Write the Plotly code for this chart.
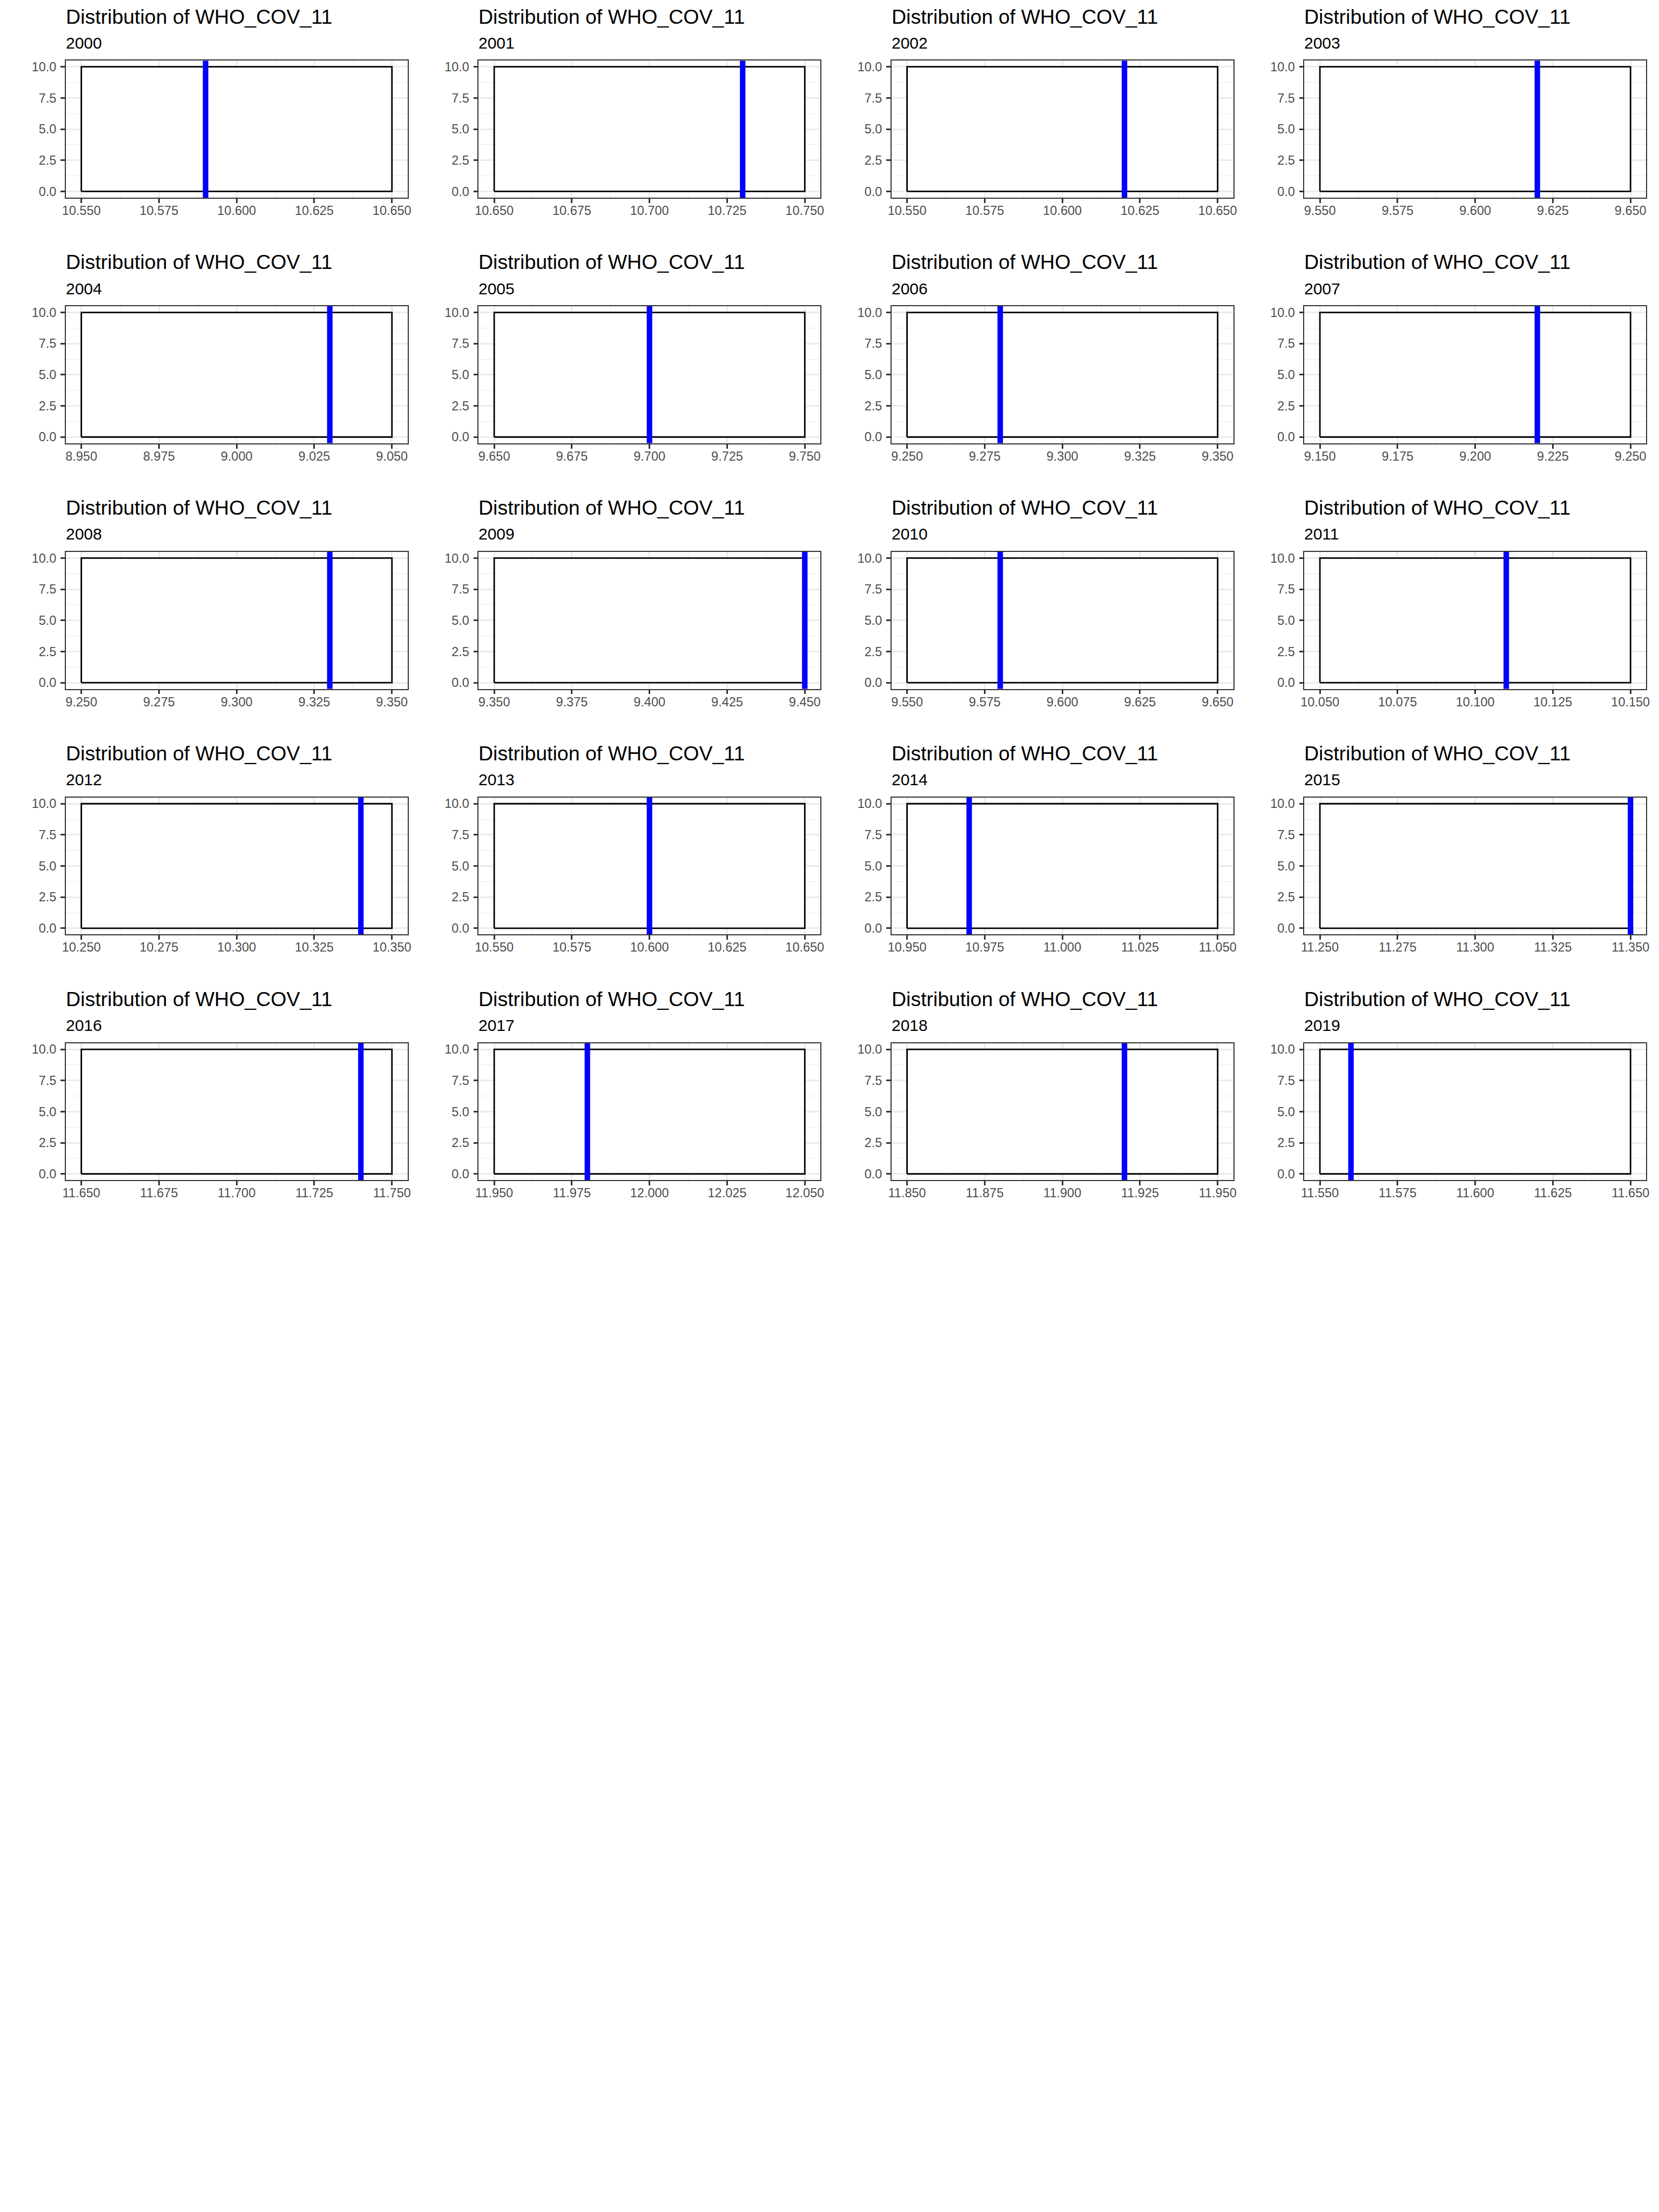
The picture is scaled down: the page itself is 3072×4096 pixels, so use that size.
import plotly.graph_objects as go

# ---------------- data ----------------
years = [2000, 2001, 2002, 2003, 2004, 2005, 2006, 2007, 2008, 2009,
         2010, 2011, 2012, 2013, 2014, 2015, 2016, 2017, 2018, 2019]
mean_values = [10.59, 10.73, 10.62, 9.62, 9.03, 9.70, 9.28, 9.22, 9.33, 9.45,
               9.58, 10.11, 10.34, 10.60, 10.97, 11.35, 11.74, 11.98, 11.92, 11.56]
bin_starts = [10.55, 10.65, 10.55, 9.55, 8.95, 9.65, 9.25, 9.15, 9.25, 9.35,
              9.55, 10.05, 10.25, 10.55, 10.95, 11.25, 11.65, 11.95, 11.85, 11.55]
bin_counts = [10, 10, 10, 10, 10, 10, 10, 10, 10, 10,
              10, 10, 10, 10, 10, 10, 10, 10, 10, 10]
bin_width = 0.1
y_tick_vals = [0, 2.5, 5, 7.5, 10]
y_tick_text = ["0.0", "2.5", "5.0", "7.5", "10.0"]
title_text = "Distribution of WHO_COV_11"

# ---------------- layout geometry (reference px, 4500x6000) ----------------
REF_W, REF_H = 4500.0, 6000.0
W, H = 3072, 4096
S = H / REF_H
NCOL = 4
COL_STEP = 1125.0
ROW_STEP = 666.75
P_LEFT, P_RIGHT = 169.0, 1100.0
P_TOP, P_BOTTOM = 163.0, 535.0
TITLE_BASE, SUB_BASE = 62.5, 129.5

FONT = "Liberation Sans, Arial, Helvetica, sans-serif"
TITLE_SIZE = 37.5
SUB_SIZE = 30
TICK_SIZE = 23.5

fig = go.Figure()
annotations = []

for i, yr in enumerate(years):
    r, c = divmod(i, NCOL)
    n = i + 1
    xa = "x" if n == 1 else f"x{n}"
    ya = "y" if n == 1 else f"y{n}"
    lo = bin_starts[i]
    hi = lo + bin_width
    cnt = bin_counts[i]

    # histogram bar
    fig.add_trace(go.Scatter(
        x=[lo, lo, hi, hi, lo], y=[0, cnt, cnt, 0, 0],
        mode="lines", fill="toself", fillcolor="white",
        line=dict(color="black", width=2.8), xaxis=xa, yaxis=ya,
        showlegend=False, hoverinfo="skip"))
    # mean line
    fig.add_trace(go.Scatter(
        x=[mean_values[i], mean_values[i]], y=[-0.5, 10.5],
        mode="lines", line=dict(color="#0000FF", width=10.2),
        xaxis=xa, yaxis=ya, showlegend=False, hoverinfo="skip"))

    left = P_LEFT + c * COL_STEP
    right = P_RIGHT + c * COL_STEP
    top = P_TOP + r * ROW_STEP
    bottom = P_BOTTOM + r * ROW_STEP
    xdom = [left / REF_W, right / REF_W]
    ydom = [1 - bottom / REF_H, 1 - top / REF_H]

    common = dict(
        showline=True, mirror=True, linecolor="#333333", linewidth=1.5,
        ticks="outside", ticklen=8, tickwidth=2.7, tickcolor="#333333",
        showgrid=True, gridcolor="#EBEBEB", gridwidth=2.7,
        zeroline=False, fixedrange=True,
        tickfont=dict(family=FONT, size=TICK_SIZE, color="#4D4D4D"),
    )
    xkey = "xaxis" if n == 1 else f"xaxis{n}"
    ykey = "yaxis" if n == 1 else f"yaxis{n}"
    fig.update_layout(**{
        xkey: dict(domain=xdom, anchor=ya, range=[lo - 0.005, hi + 0.005],
                   tickmode="linear", tick0=lo, dtick=0.025, tickformat=".3f",
                   minor=dict(tick0=lo + 0.0125, dtick=0.025, showgrid=True,
                              gridcolor="#EBEBEB", gridwidth=1.4, ticks=""),
                   ticklabelstandoff=-6,
                   **common),
        ykey: dict(domain=ydom, anchor=xa, range=[-0.5, 10.5],
                   tickmode="array", tickvals=y_tick_vals, ticktext=y_tick_text,
                   minor=dict(tickvals=[1.25, 3.75, 6.25, 8.75], showgrid=True,
                              gridcolor="#EBEBEB", gridwidth=1.4, ticks=""),
                   ticklabelstandoff=3,
                   **common),
    })

    tb = (TITLE_BASE + r * ROW_STEP) * S + 0.212 * TITLE_SIZE
    sb = (SUB_BASE + r * ROW_STEP) * S + 0.212 * SUB_SIZE
    annotations.append(dict(
        text=title_text, xref="paper", yref="paper", x=left / REF_W,
        y=1 - tb / H, xanchor="left", yanchor="bottom", showarrow=False,
        borderpad=0, borderwidth=0,
        font=dict(family=FONT, size=TITLE_SIZE, color="black")))
    annotations.append(dict(
        text=str(yr), xref="paper", yref="paper", x=left / REF_W,
        y=1 - sb / H, xanchor="left", yanchor="bottom", showarrow=False,
        borderpad=0, borderwidth=0,
        font=dict(family=FONT, size=SUB_SIZE, color="black")))

fig.update_layout(
    width=W, height=H, margin=dict(l=0, r=0, t=0, b=0),
    paper_bgcolor="white", plot_bgcolor="white",
    annotations=annotations, showlegend=False,
    font=dict(family=FONT),
)

fig.write_html("out.html")
